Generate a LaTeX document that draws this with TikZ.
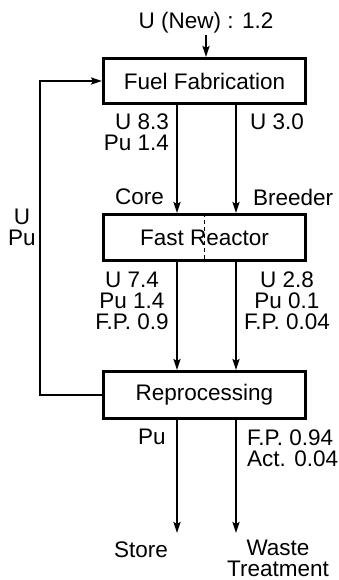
\documentclass[tikz,border=0pt]{standalone}
\usepackage{fontspec}
\setmainfont{Liberation Sans}
\usetikzlibrary{arrows.meta}
\begin{document}
\begin{tikzpicture}[x=1pt,y=-1pt,
  box/.style={draw,line width=3pt,minimum width=202pt,inner sep=0pt,font=\fontsize{22.5}{21}\selectfont},
  lbl/.style={inner sep=0pt,font=\fontsize{22.5}{21}\selectfont},
  flow/.style={line width=2pt,-{Stealth[length=11pt,width=7pt,inset=2pt]}},
  line/.style={line width=2pt}]
\useasboundingbox (0,0) rectangle (339,580);
\node[box,minimum height=45pt] (ff) at (204.5,81) {Fuel Fabrication};
\node[box,minimum height=46pt] (fr) at (204.5,237.5) {Fast Reactor};
\node[box,minimum height=47pt] (rp) at (204.5,395) {Reprocessing};
\coordinate (xc) at (177,0);
\coordinate (xb) at (236,0);
\coordinate (newin) at (206,35);
\coordinate (store) at (177,533);
\coordinate (waste) at (236,533);
\coordinate (loop) at (40,0);
% dashed divider
\draw[line width=1pt,dash pattern=on 4pt off 3pt] (fr.north) -- (fr.south);
% flows
\node[lbl] (unew) at (206,23) {U (New) : 1.2};
\draw[flow] (newin) -- (ff.north -| newin);
\draw[flow] (ff.south -| xc) -- (fr.north -| xc);
\draw[flow] (ff.south -| xb) -- (fr.north -| xb);
\draw[flow] (fr.south -| xc) -- (rp.north -| xc);
\draw[flow] (fr.south -| xb) -- (rp.north -| xb);
\draw[flow] (rp.south -| xc) -- (store);
\draw[flow] (rp.south -| xb) -- (waste);
\draw[flow] (rp.west) -- (rp.west -| loop) -- (ff.west -| loop) -- (ff.west);
% labels
\node[lbl,anchor=east,align=right] (l1) at (169,132.5) {U 8.3\\Pu 1.4};
\node[lbl,anchor=west] (l2) at (250,122) {U 3.0};
\node[lbl,anchor=east] (core) at (164,197) {Core};
\node[lbl,anchor=west] (breeder) at (253,197) {Breeder};
\node[lbl,align=center] (upu) at (22,227.5) {U\\Pu};
\node[lbl,align=center] (l3) at (132,301) {U 7.4\\Pu 1.4\\F.P. 0.9};
\node[lbl,align=center] (l4) at (287,301) {U 2.8\\Pu 0.1\\F.P. 0.04};
\node[lbl] (pu) at (152,437) {Pu};
\node[lbl,anchor=west,align=left] (l5) at (247,448) {F.P. 0.94\\Act. 0.04};
\node[lbl] (st) at (141,550) {Store};
\node[lbl,align=center] (wt) at (278,558) {Waste\\Treatment};
\end{tikzpicture}
\end{document}
